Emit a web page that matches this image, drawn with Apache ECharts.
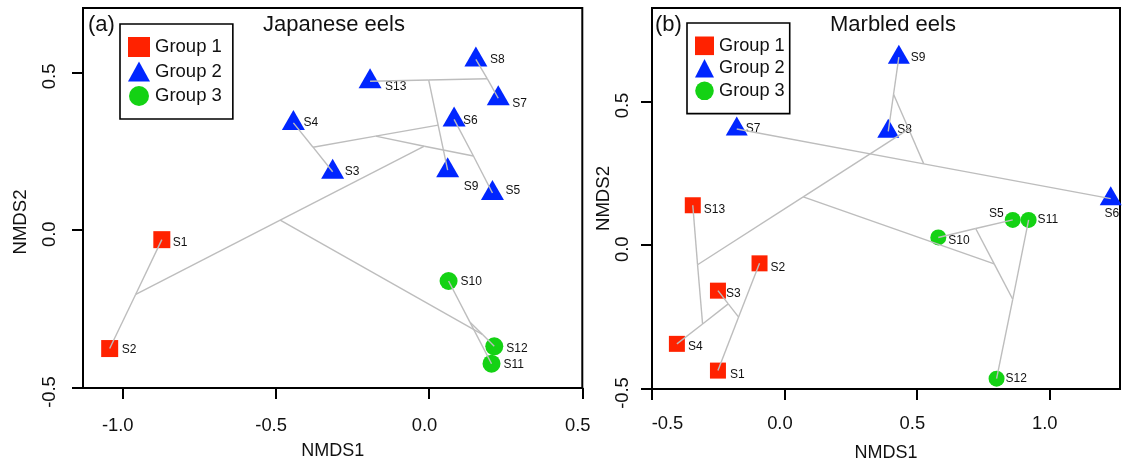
<!DOCTYPE html>
<html><head><meta charset="utf-8">
<script src="https://cdn.jsdelivr.net/npm/echarts@6/dist/echarts.min.js"></script>
<style>html,body{margin:0;padding:0;background:#fff}#c{width:1123px;height:467px}</style>
</head><body><div id="c"></div>
<script>
// ---------- Panel (a): Japanese eels ----------
const sitesA  = ['S1','S2','S3','S4','S5','S6','S7','S8','S9','S10','S11','S12','S13'];
const groupA  = [1,1,2,2,2,2,2,2,2,3,3,3,2];
const nmds1A  = [-0.871,-1.041,-0.314,-0.442,0.207,0.082,0.226,0.153,0.061,0.064,0.204,0.213,-0.192];
const nmds2A  = [-0.030,-0.375,0.185,0.340,0.118,0.351,0.418,0.541,0.190,-0.161,-0.423,-0.368,0.472];
// cluster-tree nodes (ordicluster)
const nodeNamesA = ['A','C','F','H','E','D','G','B','I','K','J'];
const nodeX_A    = [-0.956,-0.378,0.190,0.145,-0.001,0.030,-0.174,-0.015,-0.485,0.134,0.174];
const nodeY_A    = [-0.203,0.263,0.480,0.235,0.476,0.333,0.298,0.266,0.032,-0.292,-0.330];
const edgesA = [['S1','A'],['S2','A'],['S3','C'],['S4','C'],['S7','F'],['S8','F'],['S5','H'],['S6','H'],
  ['S13','E'],['F','E'],['E','D'],['S9','D'],['C','G'],['D','G'],['G','B'],['H','B'],['A','I'],['B','I'],
  ['S10','K'],['S11','K'],['K','J'],['S12','J'],['I','J']];

// ---------- Panel (b): Marbled eels ----------
const sitesB  = ['S1','S2','S3','S4','S5','S6','S7','S8','S9','S10','S11','S12','S13'];
const groupB  = [1,1,1,1,3,2,2,2,2,3,3,3,1];
const nmds1B  = [-0.251,-0.094,-0.251,-0.406,0.862,1.232,-0.180,0.392,0.432,0.581,0.922,0.801,-0.346];
const nmds2B  = [-0.436,-0.063,-0.158,-0.343,0.088,0.162,0.404,0.396,0.654,0.027,0.088,-0.464,0.139];
const nodeNamesB = ['T','R','Q','P','N','M','O','U','W','X','Y'];
const nodeX_B    = [-0.173,-0.212,-0.309,-0.328,0.412,0.526,0.469,0.071,0.722,0.862,0.792];
const nodeY_B    = [-0.250,-0.204,-0.274,-0.068,0.525,0.283,0.404,0.168,0.058,-0.188,-0.065];
const edgesB = [['S1','T'],['S2','T'],['S3','R'],['T','R'],['S4','Q'],['R','Q'],['S13','P'],['Q','P'],
  ['S8','N'],['S9','N'],['S6','M'],['S7','M'],['N','O'],['M','O'],['P','U'],['O','U'],
  ['S5','W'],['S10','W'],['S11','X'],['S12','X'],['W','Y'],['X','Y'],['U','Y']];

const groupNames = ['Group 1','Group 2','Group 3'];
const xTicksA = [-1.0,-0.5,0.0,0.5];
const yTicksA = [-0.5,0.0,0.5];
const xTicksB = [-0.5,0.0,0.5,1.0];
const yTicksB = [-0.5,0.0,0.5];

// ---------- styles ----------
const FONT = 'Liberation Sans, Arial, sans-serif';
const colors = ['#ff2200','#0026ff','#14d214'];
const symbols = ['rect','triangle','circle'];
const sizes = [[17,[23,20],18],[16,[22,19],16]];
const triLift = 3;
// label offsets (pixels) relative to point: [dx, dy, align]
const labelStyleA = {S1:[11,3],S2:[12,1],S3:[12,0],S4:[10,0],S5:[13,-2],S6:[9,1],S7:[14,5],S8:[14,0],
  S9:[16,16],S10:[12,1],S11:[12,1],S12:[12,2],S13:[15,5]};
const labelStyleB = {S1:[12,4],S2:[11,4],S3:[8,3],S4:[11,3],S5:[-9,-6,'right'],S6:[1,15,'center'],S7:[9,0],
  S8:[9,-2],S9:[12,1],S10:[10,3],S11:[9,0],S12:[9,0],S13:[11,4]};

function pointSeries(p, sites, groups, xs, ys, lstyle){
  const out = [];
  for (let g = 1; g <= 3; g++){
    const data = [];
    sites.forEach((s,i) => {
      if (groups[i] !== g) return;
      const ls = lstyle[s];
      const lift = g === 2 ? triLift : 0;
      data.push({name:s, value:[xs[i], ys[i]],
        label:{offset:[ls[0], ls[1] + lift], align: ls[2] || 'left'}});
    });
    out.push({
      type:'scatter', name:groupNames[g-1], xAxisIndex:p, yAxisIndex:p,
      symbol:symbols[g-1], symbolSize:sizes[p][g-1], symbolOffset: g===2 ? [0,-triLift] : [0,0],
      itemStyle:{color:colors[g-1], opacity:1},
      label:{show:true, formatter:'{b}', position:'inside', verticalAlign:'middle',
        color:'#111', fontSize:12, fontFamily:FONT, textBorderWidth:0},
      emphasis:{disabled:true}, silent:true, z:2, data
    });
  }
  return out;
}
function lineSeries(p, sites, xs, ys, nn, nx, ny, edges){
  const pos = {};
  sites.forEach((s,i) => pos[s] = [xs[i], ys[i]]);
  nn.forEach((s,i) => pos[s] = [nx[i], ny[i]]);
  return {type:'lines', coordinateSystem:'cartesian2d', xAxisIndex:p, yAxisIndex:p, silent:true, z:3,
    lineStyle:{color:'#bdbdbd', width:1.4, opacity:1, curveness:0},
    data: edges.map(e => ({coords:[pos[e[0]], pos[e[1]]]}))};
}

function xAxis(p, min, max, ticks, margin, nameGap, labelFmt, rich){
  return {type:'value', gridIndex:p, min, max, name:'NMDS1', nameLocation:'middle', nameGap,
    nameTextStyle:{fontSize:18, fontFamily:FONT, color:'#111'},
    axisLine:{show:true, onZero:false, lineStyle:{color:'#000', width:2}},
    axisTick:{show:true, customValues:ticks, length:11, lineStyle:{color:'#000', width:2}},
    axisLabel:{show:true, customValues:ticks, margin, fontSize:18.4, fontFamily:FONT, color:'#111',
      padding:[0,9,0,0], formatter:labelFmt, rich: rich || {}},
    splitLine:{show:false}};
}
function yAxis(p, min, max, ticks, margin, nameGap, namePad){
  return {type:'value', gridIndex:p, min, max, name:'NMDS2', nameLocation:'middle', nameGap,
    nameTextStyle:{fontSize:18.6, fontFamily:FONT, color:'#111', padding:namePad},
    axisLine:{show:true, onZero:false, lineStyle:{color:'#000', width:2}},
    axisTick:{show:true, customValues:ticks, length:11, lineStyle:{color:'#000', width:2}},
    axisLabel:{show:true, customValues:ticks, margin, rotate:90, fontSize:18.4, fontFamily:FONT, color:'#111',
      padding:[0,8,0,0], formatter:v => v.toFixed(1)},
    splitLine:{show:false}};
}
function legend(left, top, pad, iw, ih, gap, fs){
  return {left, top, orient:'vertical', padding:pad, itemWidth:iw, itemHeight:ih, itemGap:gap,
    borderColor:'#000', borderWidth:1.6, selectedMode:false, backgroundColor:'#fff',
    textStyle:{fontSize:fs, fontFamily:FONT, color:'#111', lineHeight:ih},
    data:groupNames.map((n,i) => ({name:n, icon:symbols[i]}))};
}
const titleStyle = {fontSize:22, fontWeight:'normal', fontFamily:FONT, color:'#111'};

const option = {
  animation:false,
  backgroundColor:'#fff',
  title:[
    {text:'(a)', left:88, top:14, padding:0, textStyle:titleStyle},
    {text:'Japanese eels', left:263, top:14, padding:0, textStyle:titleStyle},
    {text:'(b)', left:655, top:14, padding:0, textStyle:titleStyle},
    {text:'Marbled eels', left:830, top:14, padding:0, textStyle:titleStyle}
  ],
  legend:[
    legend(120, 24, [13,11,13,8], 22, 20, 4.5, 18.5),
    legend(687, 23, [13.5,5,13.5,8], 19, 18.6, 3.9, 18.2)
  ],
  grid:[
    {left:83, top:8, width:499.3, height:380, show:true, borderColor:'#000', borderWidth:2, backgroundColor:'transparent'},
    {left:652, top:8, width:468, height:382.3, show:true, borderColor:'#000', borderWidth:2, backgroundColor:'transparent'}
  ],
  xAxis:[
    xAxis(0, -1.128, 0.5, xTicksA, 28.7, 54, v => v.toFixed(1)),
    xAxis(1, -0.5, 1.267, xTicksB, 26.4, 55, v => v === -0.5 ? '{m|-0.5}' : v.toFixed(1),
      {m:{padding:[0,0,0,40], fontSize:18.4, fontFamily:FONT, color:'#111'}})
  ],
  yAxis:[
    yAxis(0, -0.5, 0.704, yTicksA, 23.7, 52.5, [0,48,0,0]),
    yAxis(1, -0.5, 0.825, yTicksB, 19.7, 39, [0,0,0,0])
  ],
  series:[
    lineSeries(0, sitesA, nmds1A, nmds2A, nodeNamesA, nodeX_A, nodeY_A, edgesA),
    ...pointSeries(0, sitesA, groupA, nmds1A, nmds2A, labelStyleA),
    lineSeries(1, sitesB, nmds1B, nmds2B, nodeNamesB, nodeX_B, nodeY_B, edgesB),
    ...pointSeries(1, sitesB, groupB, nmds1B, nmds2B, labelStyleB)
  ]
};
echarts.init(document.getElementById('c'), null, {renderer:'canvas'}).setOption(option);
</script></body></html>
